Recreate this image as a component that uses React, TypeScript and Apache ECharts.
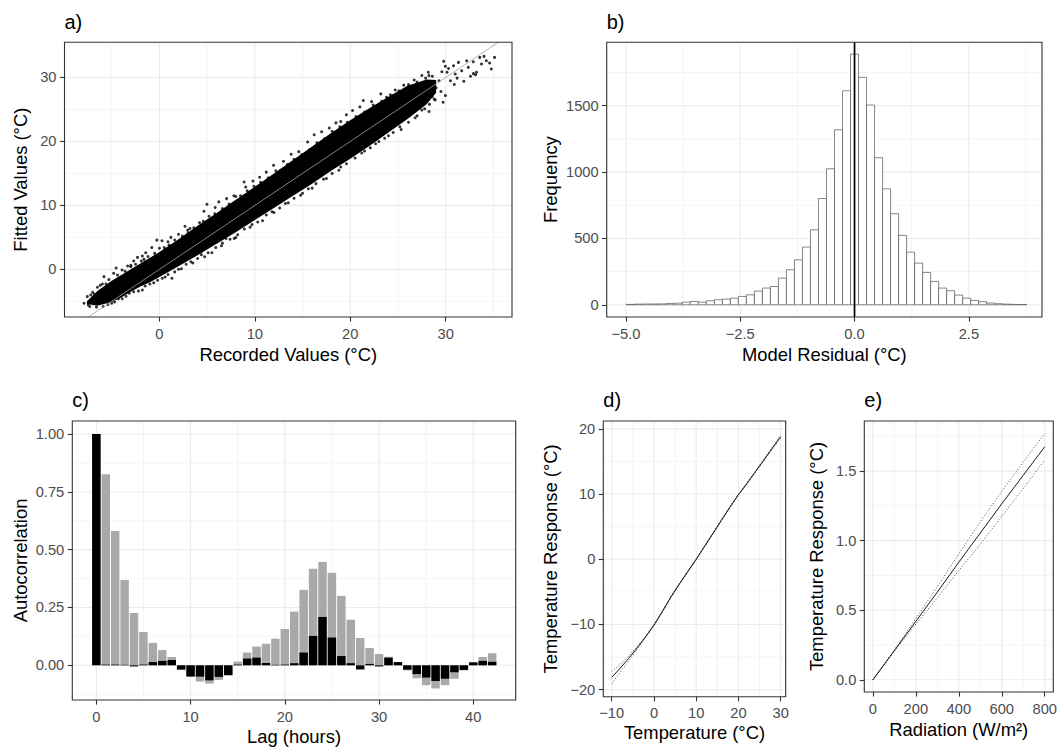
import React, { useEffect, useRef } from "react";
import * as echarts from "echarts";

const FONT = "'Liberation Sans', Arial, Helvetica, sans-serif";

// ---------------- Panel a: fitted vs recorded ----------------
const aBandX = [-7.6, -6.5, -5, -4, -3, -2, -1, 0, 2, 4, 6, 8, 10, 12, 14, 16, 18, 20, 22, 24, 26, 28, 29.0];
const aBandUpper = [-5.0, -3.4, -1.8, -0.9, 0.0, 0.9, 1.8, 2.7, 4.7, 6.8, 8.8, 10.9, 12.9, 15.0, 17.1, 19.2, 21.3, 23.3, 25.2, 27.0, 28.7, 29.7, 29.6];
const aBandLower = [-5.4, -5.7, -5.1, -4.4, -3.5, -2.7, -2.0, -1.2, 0.5, 2.2, 4.0, 5.8, 7.7, 9.6, 11.5, 13.4, 15.4, 17.3, 19.3, 21.4, 23.5, 25.8, 27.6];
const aPoints: [number, number][] = [
  // sparse points above the band
  [-7.9, -5.3], [-7.56, -4.26], [-7.46, -5.56], [-7.0, -3.6], [-6.5, -2.8], [-5.98, -2.29], [-5.81, -1.14],
  [-4.8, -0.6], [-4.54, 0.21], [-3.92, -0.1], [-3.33, 0.52], [-2.99, 0.62], [-2.7, 1.3], [-2.3, 1.87],
  [-1.79, 2.08], [-1.62, 1.56], [-1.44, 2.6], [-0.8, 3.4], [-0.27, 4.57], [0.27, 4.47], [0.89, 4.31],
  [1.2, 5.0], [2.0, 5.5], [2.68, 6.75], [2.96, 6.13], [3.2, 6.39], [4.67, 9.09], [4.98, 10.18], [5.84, 9.66],
  [6.22, 10.55], [7.04, 11.06], [7.8, 11.5], [8.87, 13.66], [9.04, 12.88], [9.8, 13.8], [10.5, 14.4],
  [11.2, 15.2], [11.96, 16.26], [13.0, 16.9], [13.8, 18.0], [14.6, 18.4], [15.53, 19.9], [16.22, 21.04],
  [17.0, 21.5], [17.8, 22.1], [18.5, 22.9], [19.0, 23.1], [19.59, 24.16], [20.24, 24.83], [21.0, 25.4],
  [21.37, 26.39], [22.23, 26.23], [23.2, 27.43], [23.8, 26.9], [24.47, 27.17], [24.71, 28.05], [25.6, 28.8],
  [26.01, 28.47], [26.7, 29.6], [27.39, 28.21], [27.5, 30.3], [28.18, 30.81], [28.25, 30.29], [29.6, 30.9],
  [29.79, 32.52], [29.97, 31.74], [30.14, 30.81], [30.3, 31.4], [30.82, 31.84], [31.0, 30.55], [31.34, 32.36],
  [31.68, 31.06], [32.2, 32.62], [32.37, 31.58], [32.89, 32.47], [33.13, 30.44], [33.23, 30.81], [33.57, 33.14],
  [33.75, 32.1], [34.02, 33.3], [34.26, 32.62], [34.6, 32.26], [34.78, 31.32], [35.12, 33.14],
  [28.6, 27.0], [29.0, 28.4], [29.3, 29.5], [28.9, 26.5], [29.5, 27.8], [30.5, 29.5], [30.9, 28.9],
  [31.2, 29.9], [31.9, 29.4], [32.6, 30.2], [32.9, 30.6],
  // sparse points below the band
  [-5.0, -5.3], [-4.3, -4.6], [-3.16, -3.74], [-2.2, -3.4], [-1.79, -3.22], [-0.6, -2.1], [0.6, -1.2],
  [1.31, -1.4], [2.3, 0.1], [3.5, 1.0], [4.74, 1.97], [5.5, 2.6], [6.5, 3.7], [6.98, 4.83], [7.84, 4.83],
  [8.0, 4.99], [9.5, 6.6], [10.8, 7.6], [12.0, 8.9], [13.5, 10.4], [14.8, 11.6], [16.0, 12.7], [17.5, 14.2],
  [18.8, 15.5], [20.17, 18.08], [21.5, 18.5], [22.65, 19.64], [24.0, 20.9], [25.33, 21.87], [26.8, 23.7],
  [27.8, 25.1], [28.25, 24.68], [29.73, 26.13], [29.97, 27.17],
  // points along the upper edge of the dense cloud
  [-7.2, -4.0], [-6.8, -3.9], [-6.2, -2.5], [-5.6, -2.3], [-5.3, -1.6], [-4.4, -0.9], [-3.6, -0.3], [-3.0, 0.4],
  [-2.5, 0.8], [-1.9, 1.3], [-1.2, 2.0], [-0.5, 2.5], [0.0, 3.3], [0.5, 3.4], [1.0, 3.8], [1.6, 4.6], [2.4, 5.2],
  [3.0, 5.7], [3.6, 6.5], [4.2, 7.3], [4.6, 7.5], [5.2, 8.3], [5.8, 8.7], [6.6, 9.5], [7.3, 10.2], [8.0, 11.4],
  [8.5, 11.5], [9.2, 12.3], [9.9, 13.0], [10.6, 13.6], [11.4, 14.3], [12.2, 15.4], [12.7, 15.5], [13.4, 16.4],
  [14.1, 17.2], [14.9, 17.9], [15.7, 18.7], [16.5, 19.8], [17.3, 20.4], [18.1, 21.6], [18.9, 22.3], [19.7, 23.0],
  [20.6, 23.9], [21.5, 24.6], [22.4, 25.7], [23.3, 26.3], [24.2, 27.3], [25.1, 27.9], [26.1, 28.9], [27.0, 29.3],
  [27.9, 29.9], [28.6, 30.2],
  // points along the lower edge of the dense cloud
  [-7.3, -5.8], [-6.6, -5.9], [-5.9, -5.8], [-5.4, -5.5], [-4.7, -5.1], [-3.9, -4.6], [-3.5, -4.2], [-2.7, -3.5],
  [-1.5, -2.6], [-1.0, -2.3], [-0.2, -1.7], [0.3, -1.4], [0.9, -0.8], [1.6, -0.4], [2.0, 0.0], [2.8, 0.8],
  [3.3, 1.2], [4.0, 1.7], [4.4, 2.3], [5.1, 2.6], [5.9, 3.4], [6.6, 4.1], [7.4, 4.7], [8.2, 5.4], [8.9, 6.3],
  [9.7, 7.0], [10.3, 7.4], [11.2, 8.5], [11.8, 9.0], [12.6, 9.6], [13.2, 10.3], [14.1, 11.1], [15.0, 11.9],
  [15.6, 12.6], [16.4, 13.4], [17.2, 14.1], [18.1, 15.0], [19.0, 16.0], [19.6, 16.5], [20.5, 17.4], [21.2, 18.2],
  [22.1, 19.0], [23.0, 20.0], [23.6, 20.5], [24.5, 21.4], [25.2, 22.3], [26.1, 23.0], [27.0, 24.0], [27.5, 24.9],
  [28.3, 25.8], [28.8, 26.6],
];
const aIdentity: [number, number][] = [[-10, -10], [38, 38]];
const aXTicks = [0, 10, 20, 30];
const aXLabels = ["0", "10", "20", "30"];
const aXMinor = [-5, 5, 15, 25, 35];
const aYTicks = [0, 10, 20, 30];
const aYLabels = ["0", "10", "20", "30"];
const aYMinor = [-5, 5, 15, 25, 35];

// ---------------- Panel b: residual histogram ----------------
const residBinWidth = 0.1752;
const residBinCentres = [
  -4.906, -4.730, -4.555, -4.380, -4.205, -4.030, -3.854, -3.679, -3.504, -3.329,
  -3.154, -2.978, -2.803, -2.628, -2.453, -2.278, -2.102, -1.927, -1.752, -1.577,
  -1.402, -1.226, -1.051, -0.876, -0.701, -0.526, -0.350, -0.175, 0.000, 0.175,
  0.350, 0.526, 0.701, 0.876, 1.051, 1.226, 1.402, 1.577, 1.752, 1.927,
  2.102, 2.278, 2.453, 2.628, 2.803, 2.978, 3.154, 3.329, 3.504, 3.679,
];
const residCounts = [
  3, 5, 6, 6, 7, 10, 12, 20, 25, 20,
  30, 38, 43, 50, 63, 75, 103, 126, 138, 201,
  264, 339, 435, 565, 801, 1025, 1319, 1613, 1889, 1714,
  1505, 1108, 874, 686, 523, 397, 314, 244, 176, 126,
  106, 73, 50, 33, 23, 13, 8, 5, 3, 2,
];
const bXTicks = [-5, -2.5, 0, 2.5];
const bXLabels = ["\u22125.0", "\u22122.5", "0.0", "2.5"];
const bXMinor = [-3.75, -1.25, 1.25, 3.75];
const bYTicks = [0, 500, 1000, 1500];
const bYLabels = ["0", "500", "1000", "1500"];
const bYMinor = [250, 750, 1250, 1750];

// ---------------- Panel c: autocorrelation ----------------
const lags = [0, 1, 2, 3, 4, 5, 6, 7, 8, 9, 10, 11, 12, 13, 14, 15, 16, 17, 18, 19, 20, 21, 22, 23, 24, 25, 26, 27, 28, 29, 30, 31, 32, 33, 34, 35, 36, 37, 38, 39, 40, 41, 42];
const acfTemperature = [
  1.0, 0.826, 0.581, 0.369, 0.226, 0.144, 0.097, 0.066, 0.036, -0.015,
  -0.045, -0.07, -0.079, -0.063, -0.038, 0.016, 0.055, 0.081, 0.093, 0.115,
  0.157, 0.232, 0.326, 0.417, 0.447, 0.4, 0.3, 0.197, 0.118, 0.075,
  0.049, 0.037, 0.01, -0.022, -0.056, -0.086, -0.1, -0.086, -0.058, -0.022,
  0.01, 0.036, 0.052,
];
const acfResidual = [
  1.0, 0.003, 0.003, 0.002, -0.005, 0.003, 0.014, 0.019, 0.023, -0.019,
  -0.049, -0.049, -0.065, -0.05, -0.043, 0.003, 0.029, 0.033, 0.01, 0.002,
  0.003, 0.009, 0.055, 0.127, 0.209, 0.12, 0.04, 0.009, -0.018, 0.006,
  -0.005, 0.033, 0.014, -0.019, -0.038, -0.053, -0.068, -0.058, -0.03, -0.02,
  0.013, 0.019, 0.015,
];
const cXTicks = [0, 10, 20, 30, 40];
const cXLabels = ["0", "10", "20", "30", "40"];
const cXMinor = [5, 15, 25, 35];
const cYTicks = [0, 0.25, 0.5, 0.75, 1];
const cYLabels = ["0.00", "0.25", "0.50", "0.75", "1.00"];
const cYMinor = [-0.125, 0.125, 0.375, 0.625, 0.875];

// ---------------- Panel d: temperature response ----------------
const tempX = [-10, -8, -6, -4, -2, 0, 2, 4, 6, 8, 10, 12, 14, 16, 18, 20, 22, 24, 26, 28, 30];
const tempFit = [-18.1, -16.7, -15.2, -13.6, -11.9, -10.1, -8.0, -5.8, -3.8, -1.9, 0.0, 2.0, 4.0, 6.0, 8.0, 9.9, 11.6, 13.4, 15.2, 17.0, 18.8];
const tempUpper = [-17.2, -16.1, -14.8, -13.4, -11.8, -10.0, -7.9, -5.7, -3.7, -1.8, 0.1, 2.1, 4.1, 6.1, 8.1, 10.0, 11.7, 13.5, 15.35, 17.15, 19.0];
const tempLower = [-19.1, -17.3, -15.6, -13.8, -12.0, -10.2, -8.1, -5.9, -3.9, -2.0, -0.1, 1.9, 3.9, 5.9, 7.9, 9.8, 11.5, 13.3, 15.05, 16.85, 18.6];
const dXTicks = [-10, 0, 10, 20, 30];
const dXLabels = ["\u221210", "0", "10", "20", "30"];
const dXMinor = [-5, 5, 15, 25];
const dYTicks = [-20, -10, 0, 10, 20];
const dYLabels = ["\u221220", "\u221210", "0", "10", "20"];
const dYMinor = [-15, -5, 5, 15];

// ---------------- Panel e: radiation response ----------------
const radX = [0, 100, 200, 300, 400, 500, 600, 700, 800];
const radFit = [0, 0.21, 0.42, 0.63, 0.845, 1.055, 1.265, 1.47, 1.675];
const radUpper = [0, 0.215, 0.44, 0.67, 0.905, 1.135, 1.355, 1.565, 1.77];
const radLower = [0, 0.205, 0.40, 0.59, 0.785, 0.975, 1.175, 1.375, 1.58];
const eXTicks = [0, 200, 400, 600, 800];
const eXLabels = ["0", "200", "400", "600", "800"];
const eXMinor = [100, 300, 500, 700];
const eYTicks = [0, 0.5, 1, 1.5];
const eYLabels = ["0.0", "0.5", "1.0", "1.5"];
const eYMinor = [0.25, 0.75, 1.25, 1.75];

// ---------------- layout ----------------
const panels = [
  { tag: "a)", left: 64.5, top: 42.3, width: 447.5, height: 274.7, xMin: -9.95, xMax: 36.95, yMin: -7.45, yMax: 35.5,
    xName: "Recorded Values (\u00b0C)", yName: "Fitted Values (\u00b0C)", xGap: 28, yGap: 35, tagTop: 11.8 },
  { tag: "b)", left: 606.7, top: 42.3, width: 435.3, height: 274.7, xMin: -5.42, xMax: 4.1, yMin: -92, yMax: 1978,
    xName: "Model Residual (\u00b0C)", yName: "Frequency", xGap: 28, yGap: 47.5, tagTop: 11.8 },
  { tag: "c)", left: 72.3, top: 421, width: 443.4, height: 279, xMin: -2.55, xMax: 44.5, yMin: -0.15, yMax: 1.056,
    xName: "Lag (hours)", yName: "Autocorrelation", xGap: 27, yGap: 43, tagTop: 389.8 },
  { tag: "d)", left: 603.3, top: 421, width: 182.4, height: 275.7, xMin: -12, xMax: 31.2, yMin: -21.07, yMax: 21.2,
    xName: "Temperature (\u00b0C)", yName: "Temperature Response (\u00b0C)", xGap: 27, yGap: 43.5, tagTop: 389.8 },
  { tag: "e)", left: 864.3, top: 421, width: 189, height: 271, xMin: -40, xMax: 839, yMin: -0.088, yMax: 1.86,
    xName: "Radiation (W/m\u00b2)", yName: "Temperature Response (\u00b0C)", xGap: 28, yGap: 39, tagTop: 389.8 },
];

const ticksSpec = [
  { xt: aXTicks, xl: aXLabels, xm: aXMinor, yt: aYTicks, yl: aYLabels, ym: aYMinor },
  { xt: bXTicks, xl: bXLabels, xm: bXMinor, yt: bYTicks, yl: bYLabels, ym: bYMinor },
  { xt: cXTicks, xl: cXLabels, xm: cXMinor, yt: cYTicks, yl: cYLabels, ym: cYMinor },
  { xt: dXTicks, xl: dXLabels, xm: dXMinor, yt: dYTicks, yl: dYLabels, ym: dYMinor },
  { xt: eXTicks, xl: eXLabels, xm: eXMinor, yt: eYTicks, yl: eYLabels, ym: eYMinor },
];

const lookup = (ticks: number[], labels: string[]) => (v: number) => {
  for (let i = 0; i < ticks.length; i++) if (Math.abs(ticks[i] - v) < 1e-9) return labels[i];
  return "";
};

const axisCommon = (ticks: number[], labels: string[]) => ({
  axisLine: { show: false, onZero: false },
  splitLine: { show: false },
  minorSplitLine: { show: false },
  axisTick: { show: true, customValues: ticks, length: 4.6, lineStyle: { color: "#333333", width: 1.1 } },
  axisLabel: {
    customValues: ticks,
    formatter: lookup(ticks, labels),
    color: "#4D4D4D",
    fontSize: 14.7,
    fontFamily: FONT,
  },
  nameLocation: "middle",
  nameTextStyle: { fontSize: 18.4, color: "#000000", fontFamily: FONT },
});

function buildOption() {
  const grid = panels.map((p) => ({ left: p.left, top: p.top, width: p.width, height: p.height, containLabel: false }));
  const xAxis = panels.map((p, i) => {
    const c = axisCommon(ticksSpec[i].xt, ticksSpec[i].xl) as any;
    c.axisLabel.margin = 9;
    return { type: "value", gridIndex: i, min: p.xMin, max: p.xMax, name: p.xName, nameGap: p.xGap, ...c };
  });
  const yAxis = panels.map((p, i) => {
    const c = axisCommon(ticksSpec[i].yt, ticksSpec[i].yl) as any;
    c.axisLabel.margin = 8;
    return { type: "value", gridIndex: i, min: p.yMin, max: p.yMax, name: p.yName, nameGap: p.yGap, ...c };
  });

  const series: any[] = [];

  // background grid lines for every panel
  panels.forEach((_, i) => {
    const t = ticksSpec[i];
    const data = [
      ...t.xm.map((v) => [v, 0, 0]),
      ...t.ym.map((v) => [v, 1, 0]),
      ...t.xt.map((v) => [v, 0, 1]),
      ...t.yt.map((v) => [v, 1, 1]),
    ];
    series.push({
      type: "custom",
      xAxisIndex: i,
      yAxisIndex: i,
      silent: true,
      z: 0,
      clip: true,
      data,
      renderItem: (params: any, api: any) => {
        const v = api.value(0);
        const axis = api.value(1);
        const major = api.value(2);
        const cs = params.coordSys;
        const style = { stroke: "#EBEBEB", lineWidth: major ? 1.1 : 0.55, fill: null };
        if (axis === 0) {
          const x = api.coord([v, 0])[0];
          return { type: "line", shape: { x1: x, y1: cs.y, x2: x, y2: cs.y + cs.height }, style };
        }
        const y = api.coord([0, v])[1];
        return { type: "line", shape: { x1: cs.x, y1: y, x2: cs.x + cs.width, y2: y }, style };
      },
    });
  });

  // Panel a: dense core of the point cloud
  series.push({
    type: "custom",
    xAxisIndex: 0,
    yAxisIndex: 0,
    z: 2,
    silent: true,
    data: [[0, 0]],
    renderItem: (params: any, api: any) => {
      const pts: number[][] = [];
      for (let i = 0; i < aBandX.length; i++) pts.push(api.coord([aBandX[i], aBandUpper[i]]));
      for (let i = aBandX.length - 1; i >= 0; i--) pts.push(api.coord([aBandX[i], aBandLower[i]]));
      return { type: "polygon", shape: { points: pts }, style: { fill: "#000000" } };
    },
  });
  series.push({
    type: "scatter",
    xAxisIndex: 0,
    yAxisIndex: 0,
    z: 3,
    symbol: "circle",
    symbolSize: 3,
    itemStyle: { color: "#000000" },
    data: aPoints,
    silent: true,
  });
  series.push({
    type: "line",
    xAxisIndex: 0,
    yAxisIndex: 0,
    z: 4,
    symbol: "none",
    clip: true,
    lineStyle: { color: "#A3A3A3", width: 0.8 },
    data: aIdentity,
    silent: true,
  });

  // Panel b
  series.push({
    type: "custom",
    xAxisIndex: 1,
    yAxisIndex: 1,
    z: 2,
    silent: true,
    data: residBinCentres.map((c, i) => [c, residCounts[i]]),
    renderItem: (params: any, api: any) => {
      const c = api.value(0);
      const n = api.value(1);
      const p0 = api.coord([c - residBinWidth / 2, n]);
      const p1 = api.coord([c + residBinWidth / 2, 0]);
      return {
        type: "rect",
        shape: { x: p0[0], y: p0[1], width: p1[0] - p0[0], height: p1[1] - p0[1] },
        style: { fill: "#FFFFFF", stroke: "#555555", lineWidth: 0.7 },
      };
    },
  });
  series.push({
    type: "line",
    xAxisIndex: 1,
    yAxisIndex: 1,
    z: 4,
    symbol: "none",
    lineStyle: { color: "#000000", width: 1.7 },
    data: [[0, -92], [0, 1978]],
    silent: true,
  });

  // Panel c
  const barSeries = (vals: number[], color: string, z: number) => ({
    type: "custom",
    xAxisIndex: 2,
    yAxisIndex: 2,
    z,
    silent: true,
    data: lags.map((l, i) => [l, vals[i]]),
    renderItem: (params: any, api: any) => {
      const l = api.value(0);
      const v = api.value(1);
      const p0 = api.coord([l - 0.45, Math.max(v, 0)]);
      const p1 = api.coord([l + 0.45, Math.min(v, 0)]);
      return {
        type: "rect",
        shape: { x: p0[0], y: p0[1], width: p1[0] - p0[0], height: p1[1] - p0[1] },
        style: { fill: color },
      };
    },
  });
  series.push(barSeries(acfTemperature, "#A9A9A9", 2));
  series.push(barSeries(acfResidual, "#000000", 3));

  // Panels d and e
  const lineS = (idx: number, xs: number[], ys: number[], dotted: boolean) => ({
    type: "line",
    xAxisIndex: idx,
    yAxisIndex: idx,
    z: dotted ? 3 : 4,
    symbol: "none",
    silent: true,
    lineStyle: dotted
      ? { color: "#000000", width: 0.7, type: [1, 2] }
      : { color: "#000000", width: 0.9 },
    data: xs.map((x, i) => [x, ys[i]]),
  });
  series.push(lineS(3, tempX, tempUpper, true));
  series.push(lineS(3, tempX, tempLower, true));
  series.push(lineS(3, tempX, tempFit, false));
  series.push(lineS(4, radX, radUpper, true));
  series.push(lineS(4, radX, radLower, true));
  series.push(lineS(4, radX, radFit, false));

  const title = panels.map((p) => ({
    text: p.tag,
    left: p.left,
    top: p.tagTop,
    padding: 0,
    textStyle: { fontSize: 20, fontWeight: "normal", color: "#000000", fontFamily: FONT },
  }));

  const graphic = panels.map((p) => ({
    type: "rect",
    z: 100,
    silent: true,
    shape: { x: p.left, y: p.top, width: p.width, height: p.height },
    style: { fill: null, stroke: "#333333", lineWidth: 1.1 },
  }));

  return {
    animation: false,
    backgroundColor: "#FFFFFF",
    title,
    grid,
    xAxis,
    yAxis,
    series,
    graphic,
  };
}

export default function App() {
  const ref = useRef<HTMLDivElement>(null);
  useEffect(() => {
    document.body.style.margin = "0";
    if (!ref.current) return;
    const chart = echarts.init(ref.current, undefined, { renderer: "svg" });
    chart.setOption(buildOption() as any);
    return () => chart.dispose();
  }, []);
  return <div ref={ref} style={{ width: 1060, height: 753 }} />;
}
